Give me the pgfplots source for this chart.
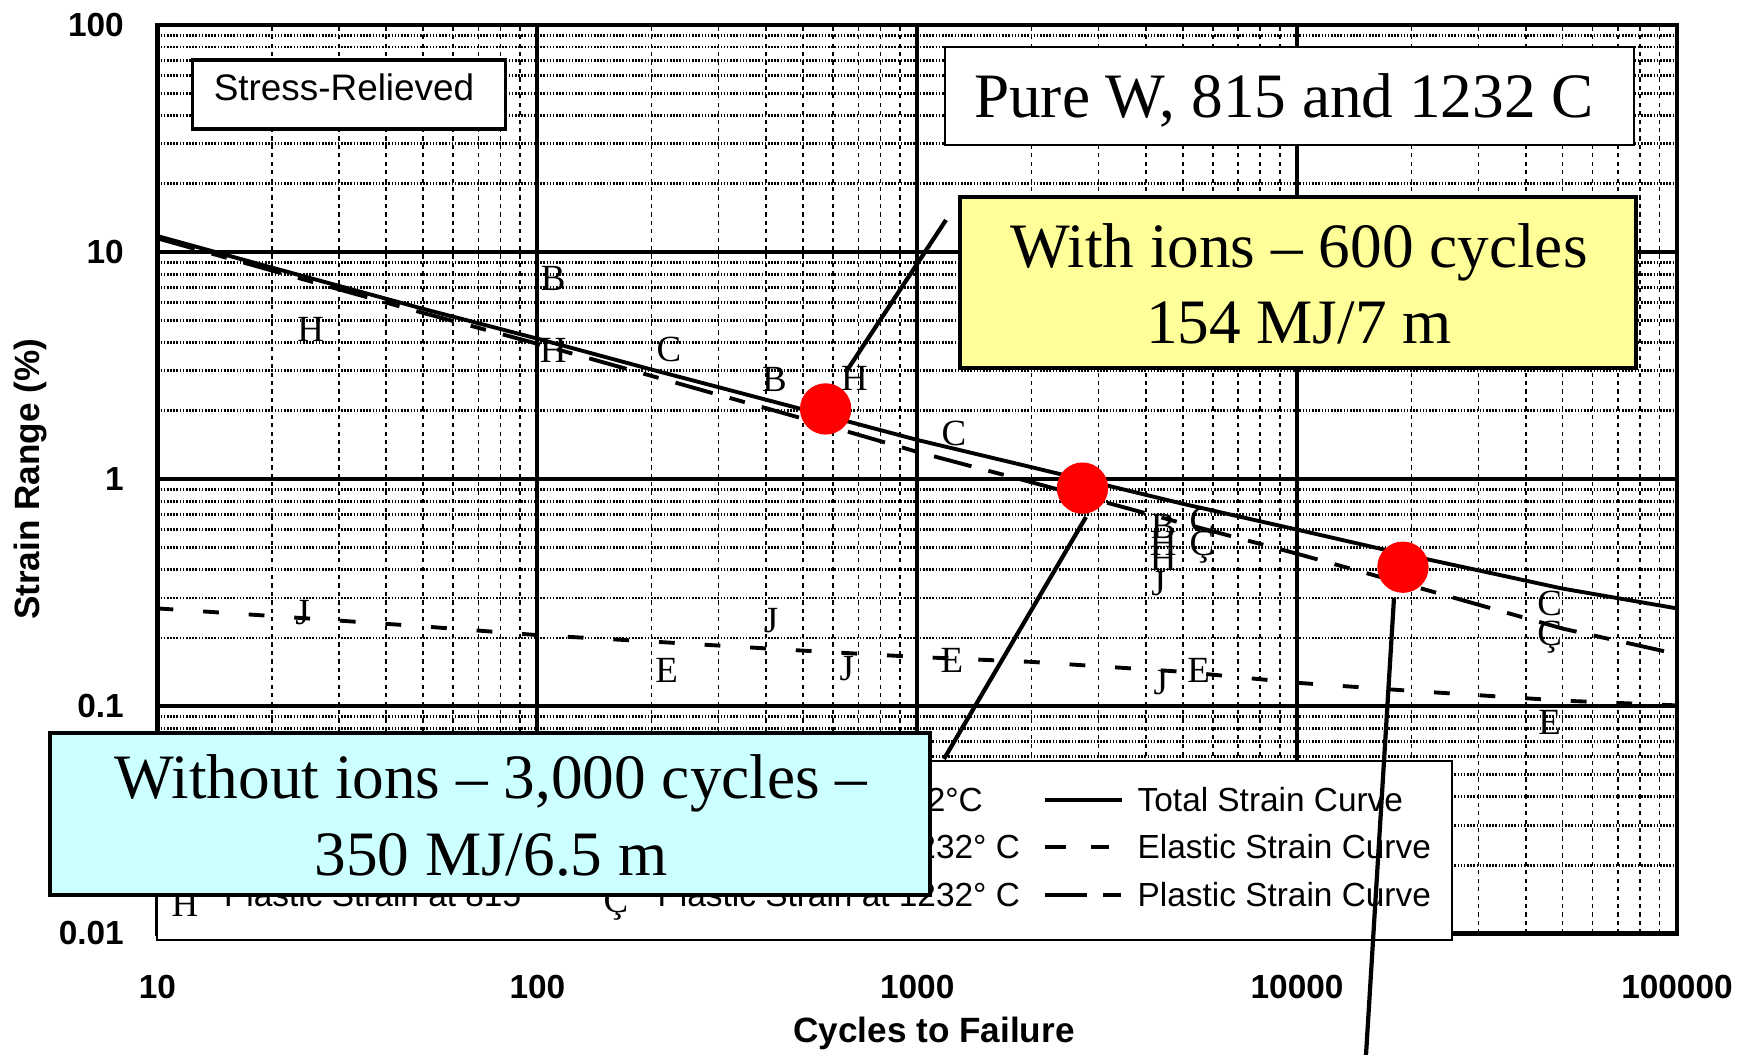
\documentclass[border=0pt]{standalone}
\usepackage{fontspec}
\setmainfont{Liberation Serif}
\setsansfont{Liberation Sans}
\usepackage{pgfplots}
\pgfplotsset{compat=1.18}

\definecolor{noteyellow}{RGB}{255,255,153}
\definecolor{notecyan}{RGB}{204,255,255}

% fitted strain curves (cycles, strain range in %)
\pgfplotstableread{
N       total  elastic  plastic
10      11.77  0.270    11.5
20      8.55   0.250    8.3
50      5.63   0.225    5.4
100     4.16   0.206    3.95
200     3.04   0.193    2.85
500     2.03   0.176    1.85
1000    1.49   0.165    1.32
2000    1.13   0.157    0.97
5000    0.78   0.142    0.64
10000   0.60   0.127    0.47
20000   0.46   0.117    0.34
50000   0.33   0.106    0.22
100000  0.27   0.101    0.17
}\curves

\begin{document}
\begin{tikzpicture}
\begin{axis}[
  scale only axis,
  width=151.95mm, height=90.85mm,
  xmode=log, ymode=log,
  xmin=10, xmax=100000, ymin=0.01, ymax=100,
  xtick={10,100,1000,10000,100000},
  xticklabels={10,100,1000,10000,100000},
  ytick={0.01,0.1,1,10,100},
  yticklabels={0.01,0.1,1,10,100},
  minor xtick={20,30,40,50,60,70,80,90,200,300,400,500,600,700,800,900,
    2000,3000,4000,5000,6000,7000,8000,9000,20000,30000,40000,50000,60000,70000,80000,90000},
  minor ytick={0.02,0.03,0.04,0.05,0.06,0.07,0.08,0.09,0.2,0.3,0.4,0.5,0.6,0.7,0.8,0.9,
    2,3,4,5,6,7,8,9,20,30,40,50,60,70,80,90},
  major tick length=0pt, minor tick length=0pt,
  grid=both,
  major grid style={black, line width=1.2pt},
  minor x grid style={black, line width=0.45pt, dash pattern=on 1.2pt off 1.2pt},
  minor y grid style={black, line width=0.8pt, dash pattern=on 0.45pt off 0.45pt},
  axis line style={line width=1.3pt},
  /pgf/number format/assume math mode=true,
  tick label style={font=\fontsize{9.5}{11}\sffamily\bfseries\selectfont, inner sep=0pt},
  xticklabel style={anchor=center, yshift=-5.35mm},
  yticklabel style={anchor=east, xshift=-3.3mm},
  xlabel={Cycles to Failure},
  ylabel={Strain Range (\%)},
  label style={font=\fontsize{10}{12}\sffamily\bfseries\selectfont},
  xlabel style={at={(axis description cs:0.511,-0.1095)}, anchor=center},
  ylabel style={at={(axis description cs:-0.0833,0.5)}, anchor=center},
  letter/.style={only marks, mark=text, text mark as node=true,
    text mark style={font=\fontsize{10.5}{12}\selectfont, inner sep=0pt}},
]
\addplot[black, line width=1.1pt] table[x=N, y=total] {\curves};
\addplot[black, line width=1.1pt, dash pattern=on 4.5pt off 8.5pt] table[x=N, y=elastic] {\curves};
\addplot[black, line width=1.1pt, dash pattern=on 11pt off 5pt on 4.5pt off 5pt] table[x=N, y=plastic] {\curves};

\addplot[letter, text mark={B}] coordinates {(110,7.62) (421,2.76) (4440,0.62)};
\addplot[letter, text mark={H}] coordinates {(25.3,4.59) (110,3.71) (684,2.79) (4440,0.52) (4440,0.45)};
\addplot[letter, text mark={C}] coordinates {(222,3.71) (1250,1.59) (5620,0.66) (46200,0.283)};
\addplot[letter, text mark={Ç}] coordinates {(5620,0.50) (46200,0.201)};
\addplot[letter, text mark={J}] coordinates {(24.1,0.258) (412,0.238) (653,0.147) (4375,0.127) (4315,0.346)};
\addplot[letter, text mark={E}] coordinates {(219,0.1436) (1233,0.159) (5510,0.1436) (46200,0.0853)};

\addplot[only marks, mark=*, mark size=7.1pt, red] coordinates {(574,2.04) (2723,0.914) (19000,0.41)};

\coordinate (O) at (rel axis cs:0,0);
\end{axis}

% annotations, in pixels of the 1752x1055 picture (y downwards)
\begin{scope}[shift={(O)}, xshift=-15.75mm, yshift=93.35mm, x=0.1mm, y=-0.1mm]
  % legend (its left part lies under the cyan note)
  \draw[line width=0.8pt, fill=white] (157,761) rectangle (1452,940);
  \begin{scope}[every node/.style={inner sep=0pt, font=\fontsize{9.5}{11}\sffamily\selectfont}]
    \node[anchor=base west] at (223.5,907) {Plastic Strain at 815};
    \node[anchor=base west] at (657,812) {Total Strain at 1232°C};
    \node[anchor=base west] at (657,859) {Elastic Strain at 1232° C};
    \node[anchor=base west] at (657,907) {Plastic Strain at 1232° C};
    \node[anchor=base west] at (1137,812) {Total Strain Curve};
    \node[anchor=base west] at (1137,859) {Elastic Strain Curve};
    \node[anchor=base west] at (1137,907) {Plastic Strain Curve};
  \end{scope}
  \begin{scope}[every node/.style={inner sep=0pt, font=\fontsize{10.5}{12}\selectfont}]
    \node at (185,904) {H};
    \node at (616,904) {Ç};
  \end{scope}
  \draw[line width=1.1pt] (1045,800) -- (1122,800);
  \draw[line width=1.1pt] (1045,847) -- (1066,847) (1091,847) -- (1109,847);
  \draw[line width=1.1pt] (1045,895) -- (1087,895) (1103,895) -- (1121,895);

  % text boxes
  \draw[line width=1.2pt, fill=notecyan] (50,733) rectangle (930,895);
  \node[anchor=base, inner sep=0pt, font=\fontsize{18}{22}\selectfont] at (491,799) {Without ions – 3,000 cycles –};
  \node[anchor=base, inner sep=0pt, font=\fontsize{18}{22}\selectfont] at (491,876) {350 MJ/6.5 m};

  \draw[line width=0.9pt, fill=white] (192.5,60) rectangle (505.8,129);
  \node[anchor=base, inner sep=0pt, font=\fontsize{10.5}{12}\sffamily\selectfont] at (344,101) {Stress-Relieved};

  \draw[line width=0.5pt, fill=white] (945,47) rectangle (1634,145);
  \node[anchor=base, inner sep=0pt, font=\fontsize{18}{22}\selectfont] at (1284,118) {Pure W, 815 and 1232 C};

  \draw[line width=1.2pt, fill=noteyellow] (960,197) rectangle (1636,368);
  \node[anchor=base, inner sep=0pt, font=\fontsize{18}{22}\selectfont] at (1299,268) {With ions – 600 cycles};
  \node[anchor=base, inner sep=0pt, font=\fontsize{18}{22}\selectfont] at (1299,344) {154 MJ/7 m};

  % pointer lines
  \draw[line width=1.2pt] (946,220) -- (846,372);
  \draw[line width=1.2pt] (1086,517) -- (944,759);
  \draw[line width=1.2pt] (1394,598) -- (1366,1055);

  \pgfresetboundingbox
  \useasboundingbox (0,0) rectangle (1752,1055);
\end{scope}
\end{tikzpicture}
\end{document}
